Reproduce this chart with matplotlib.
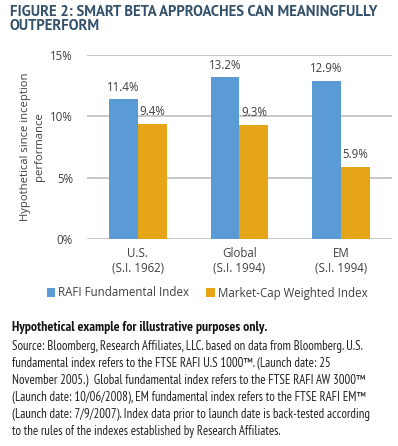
import matplotlib
matplotlib.use('Agg')
import matplotlib.pyplot as plt
import numpy as np

# data
regions = ['U.S.\n(S.I. 1962)', 'Global\n(S.I. 1994)', 'EM\n(S.I. 1994)']
rafi = [11.4, 13.2, 12.9]
mcap = [9.4, 9.3, 5.9]
yticks = [0, 5, 10, 15]

blue = '#5b9bd5'
orange = '#e6a519'
txt = '#404040'
plt.rcParams['font.family'] = ['Open Sans', 'DejaVu Sans']

fig = plt.figure(figsize=(3.98, 4.46), dpi=100)
W, H = 398, 446
ax = fig.add_axes([87 / W, 1 - 239 / H, 305 / W, 184 / H])

x = np.arange(len(regions))
w = 0.285
b1 = ax.bar(x - w / 2, rafi, w, color=blue, label='RAFI Fundamental Index', zorder=3)
b2 = ax.bar(x + w / 2, mcap, w, color=orange, label='Market-Cap Weighted Index', zorder=3)
for bars, vals in ((b1, rafi), (b2, mcap)):
    for r, v in zip(bars, vals):
        ax.annotate('%.1f%%' % v, (r.get_x() + r.get_width() / 2, v), xytext=(0, 4),
                    textcoords='offset points', ha='center', va='bottom',
                    fontsize=8.3, color=txt)

ax.set_xlim(-0.5, 2.5)
ax.set_ylim(0, 15)
ax.set_yticks(yticks)
ax.set_yticklabels(['%d%%' % t for t in yticks], fontsize=8.3, color=txt)
ax.set_xticks(x)
ax.set_xticklabels(regions, fontsize=8.3, color=txt, linespacing=1.15)
ax.tick_params(axis='y', length=0, pad=10)
ax.tick_params(axis='x', length=0, pad=6)
ax.grid(axis='y', color='#c4c4c4', linewidth=1.3, zorder=0)
for s in ax.spines.values():
    s.set_visible(False)
ax.set_ylabel('Hypothetical since inception\nperformance', fontsize=8.1, color=txt,
              linespacing=1.3, labelpad=4)

fig.legend(handles=[b1, b2], loc='center', bbox_to_anchor=(207 / W, 1 - 293 / H),
           ncol=2, frameon=False, fontsize=8.3, handlelength=0.75, handleheight=0.75,
           handletextpad=0.25, columnspacing=1.5, labelcolor=txt)

fig.text(10 / W, 1 - 5 / H, 'FIGURE 2: SMART BETA APPROACHES CAN MEANINGFULLY\nOUTPERFORM',
         ha='left', va='top', fontsize=10.6, fontweight='bold', color='#33506b',
         family=['PT Sans', 'DejaVu Sans'], linespacing=1.0)

fig.text(12 / W, 1 - 328 / H, 'Hypothetical example for illustrative purposes only.',
         ha='left', va='center', fontsize=9.9, fontweight='bold', color='#111111',
         family=['PT Sans Narrow', 'DejaVu Sans'])
note = ('Source: Bloomberg, Research Affiliates, LLC. based on data from Bloomberg. U.S.\n'
        'fundamental index refers to the FTSE RAFI U.S 1000\u2122. (Launch date: 25\n'
        'November 2005.)  Global fundamental index refers to the FTSE RAFI AW 3000\u2122\n'
        '(Launch date: 10/06/2008), EM fundamental index refers to the FTSE RAFI EM\u2122\n'
        '(Launch date: 7/9/2007). Index data prior to launch date is back-tested according\n'
        'to the rules of the indexes established by Research Affiliates.')
fig.text(12 / W, 1 - 340 / H, note, ha='left', va='top', fontsize=9.2, color='#222222',
         family=['PT Sans Narrow', 'DejaVu Sans'], linespacing=1.4)

fig.savefig('out.png', dpi=100)
